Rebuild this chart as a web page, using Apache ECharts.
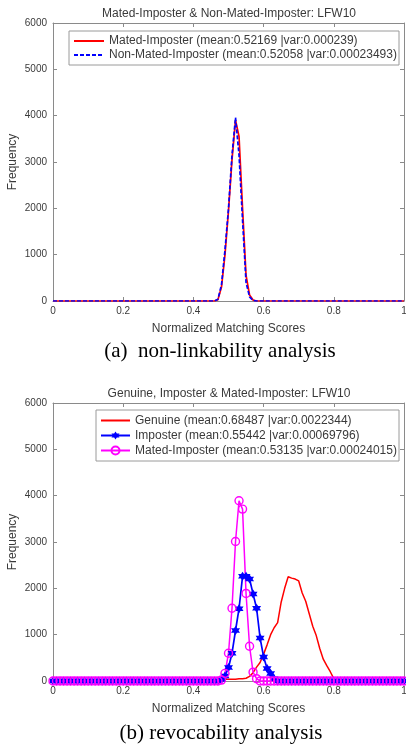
<!DOCTYPE html>
<html>
<head>
<meta charset="utf-8">
<script src="https://cdn.jsdelivr.net/npm/echarts@6/dist/echarts.min.js"></script>
<style>
html,body{margin:0;padding:0;background:#fff;}
#c{width:406px;height:745px;}
</style>
</head>
<body>
<div id="c"></div>
<script>
// Bin positions (normalized matching score)
var xs = [0,0.01,0.02,0.03,0.04,0.05,0.06,0.07,0.08,0.09,
0.10,0.11,0.12,0.13,0.14,0.15,0.16,0.17,0.18,0.19,
0.20,0.21,0.22,0.23,0.24,0.25,0.26,0.27,0.28,0.29,
0.30,0.31,0.32,0.33,0.34,0.35,0.36,0.37,0.38,0.39,
0.40,0.41,0.42,0.43,0.44,0.45,0.46,0.47,0.48,0.49,
0.50,0.51,0.52,0.53,0.54,0.55,0.56,0.57,0.58,0.59,
0.60,0.61,0.62,0.63,0.64,0.65,0.66,0.67,0.68,0.69,
0.70,0.71,0.72,0.73,0.74,0.75,0.76,0.77,0.78,0.79,
0.80,0.81,0.82,0.83,0.84,0.85,0.86,0.87,0.88,0.89,
0.90,0.91,0.92,0.93,0.94,0.95,0.96,0.97,0.98,0.99,1.00];

// (a) non-linkability
var matedA = [0,0,0,0,0,0,0,0,0,0,
0,0,0,0,0,0,0,0,0,0,
0,0,0,0,0,0,0,0,0,0,
0,0,0,0,0,0,0,0,0,0,
0,0,0,0,0,0,0,30,300,1000,
1950,3050,3900,3550,2000,550,130,20,0,0,
0,0,0,0,0,0,0,0,0,0,
0,0,0,0,0,0,0,0,0,0,
0,0,0,0,0,0,0,0,0,0,
0,0,0,0,0,0,0,0,0,0,0];
var nonMatedA = [0,0,0,0,0,0,0,0,0,0,
0,0,0,0,0,0,0,0,0,0,
0,0,0,0,0,0,0,0,0,0,
0,0,0,0,0,0,0,0,0,0,
0,0,0,0,0,0,0,40,350,1100,
2000,3150,3960,3150,1750,400,90,10,0,0,
0,0,0,0,0,0,0,0,0,0,
0,0,0,0,0,0,0,0,0,0,
0,0,0,0,0,0,0,0,0,0,
0,0,0,0,0,0,0,0,0,0,0];

// (b) revocability
var genuineB = [0,0,0,0,0,0,0,0,0,0,
0,0,0,0,0,0,0,0,0,0,
0,0,0,0,0,0,0,0,0,0,
0,0,0,0,0,0,0,0,0,0,
0,0,0,0,0,0,0,0,30,40,
40,40,40,50,50,60,100,180,300,400,
580,780,1000,1150,1260,1700,2000,2250,2220,2200,
2160,1900,1720,1450,1180,980,700,470,330,200,
50,0,0,0,0,0,0,0,0,0,
0,0,0,0,0,0,0,0,0,0,0];
var imposterB = [0,0,0,0,0,0,0,0,0,0,
0,0,0,0,0,0,0,0,0,0,
0,0,0,0,0,0,0,0,0,0,
0,0,0,0,0,0,0,0,0,0,
0,0,0,0,0,0,0,0,30,110,
290,600,1090,1560,2260,2260,2200,1880,1570,930,
520,270,160,50,0,0,0,0,0,0,
0,0,0,0,0,0,0,0,0,0,
0,0,0,0,0,0,0,0,0,0,
0,0,0,0,0,0,0,0,0,0,0];
var matedB = [0,0,0,0,0,0,0,0,0,0,
0,0,0,0,0,0,0,0,0,0,
0,0,0,0,0,0,0,0,0,0,
0,0,0,0,0,0,0,0,0,0,
0,0,0,0,0,0,0,0,20,165,
600,1570,3010,3890,3710,1890,750,190,50,0,
0,0,0,0,0,0,0,0,0,0,
0,0,0,0,0,0,0,0,0,0,
0,0,0,0,0,0,0,0,0,0,
0,0,0,0,0,0,0,0,0,0,0];

var namesA = ['Mated-Imposter (mean:0.52169 |var:0.000239)',
              'Non-Mated-Imposter (mean:0.52058 |var:0.00023493)'];
var namesB = ['Genuine (mean:0.68487 |var:0.0022344)',
              'Imposter (mean:0.55442 |var:0.00069796)',
              'Mated-Imposter (mean:0.53135 |var:0.00024015)'];
var titleA = 'Mated-Imposter & Non-Mated-Imposter: LFW10';
var titleB = 'Genuine, Imposter & Mated-Imposter: LFW10';
var captionA = '(a)  non-linkability analysis';
var captionB = '(b) revocability analysis';
var xName = 'Normalized Matching Scores';
var yName = 'Frequency';

function pairs(v){ return xs.map(function(x,i){ return [x, v[i]]; }); }

var SANS = 'Liberation Sans, Arial, sans-serif';
var SERIF = 'Liberation Serif, Times New Roman, serif';
var AX = '#8a8a8a';
var TXT = '#3a3a3a';
var hexagram = 'path://M0,-10 L2.887,-5 L8.66,-5 L5.774,0 L8.66,5 L2.887,5 L0,10 L-2.887,5 L-8.66,5 L-5.774,0 L-8.66,-5 L-2.887,-5 Z';

function fmt(v){ return String(v); }

function mkX(g, pos){
  var main = pos === 'bottom';
  return {
    gridIndex: g, type: 'value', position: pos, min: 0, max: 1, interval: 0.2,
    axisLine: {show: true, onZero: false, lineStyle: {color: AX, width: 1}},
    axisTick: {show: true, inside: true, length: 4, lineStyle: {color: AX}},
    splitLine: {show: false},
    axisLabel: {show: main, color: TXT, fontSize: 10, fontFamily: SANS, margin: 5, formatter: fmt},
    name: main ? xName : '', nameLocation: 'middle', nameGap: 22, nameMoveOverlap: false,
    nameTextStyle: {color: TXT, fontSize: 12, fontFamily: SANS}
  };
}
function mkY(g, pos){
  var main = pos === 'left';
  return {
    gridIndex: g, type: 'value', position: pos, min: 0, max: 6000, interval: 1000,
    axisLine: {show: true, onZero: false, lineStyle: {color: AX, width: 1}},
    axisTick: {show: true, inside: true, length: 4, lineStyle: {color: AX}},
    splitLine: {show: false},
    axisLabel: {show: main, color: TXT, fontSize: 10, fontFamily: SANS, margin: 6, formatter: fmt},
    name: main ? yName : '', nameLocation: 'middle', nameGap: 34, nameMoveOverlap: false,
    nameTextStyle: {color: TXT, fontSize: 12, fontFamily: SANS}
  };
}

function legendData(names, noSymbol){
  return names.map(function(n, i){
    return noSymbol[i] ? {name: n, itemStyle: {opacity: 0}} : {name: n};
  });
}

var chart = echarts.init(document.getElementById('c'), null, {renderer: 'canvas'});
chart.setOption({
  animation: false,
  backgroundColor: '#ffffff',
  grid: [
    {left: 53, right: 2, top: 23, height: 278, containLabel: false, outerBoundsMode: 'none'},
    {left: 53, right: 2, top: 403, height: 278, containLabel: false, outerBoundsMode: 'none'}
  ],
  xAxis: [mkX(0,'bottom'), mkX(0,'top'), mkX(1,'bottom'), mkX(1,'top')],
  yAxis: [mkY(0,'left'), mkY(0,'right'), mkY(1,'left'), mkY(1,'right')],
  legend: [
    {
      data: legendData(namesA, [true, true]), orient: 'vertical', left: 69, top: 31,
      backgroundColor: '#ffffff', borderColor: '#9a9a9a', borderWidth: 1,
      padding: [3, 2, 3, 4], itemGap: 0, itemWidth: 30, itemHeight: 10,
      textStyle: {fontSize: 12, fontFamily: SANS, color: TXT, lineHeight: 14, width: 288}
    },
    {
      data: legendData(namesB, [true, false, false]), orient: 'vertical', left: 96, top: 410,
      backgroundColor: '#ffffff', borderColor: '#9a9a9a', borderWidth: 1,
      padding: [3, 2, 3, 4], itemGap: 0, itemWidth: 29, itemHeight: 10,
      textStyle: {fontSize: 12, fontFamily: SANS, color: TXT, lineHeight: 15, width: 262}
    }
  ],
  graphic: [
    {type: 'text', style: {text: titleA, x: 229, y: 14, textAlign: 'center', textVerticalAlign: 'middle', fill: TXT, font: '12px ' + SANS}},
    {type: 'text', style: {text: titleB, x: 229, y: 394, textAlign: 'center', textVerticalAlign: 'middle', fill: TXT, font: '12px ' + SANS}},
    {type: 'text', style: {text: captionA, x: 220, y: 351, textAlign: 'center', textVerticalAlign: 'middle', fill: '#000', font: '21px ' + SERIF}},
    {type: 'text', style: {text: captionB, x: 221, y: 733, textAlign: 'center', textVerticalAlign: 'middle', fill: '#000', font: '21px ' + SERIF}}
  ],
  series: [
    {name: namesA[0], type: 'line', xAxisIndex: 0, yAxisIndex: 0, data: pairs(matedA),
     symbol: 'none', color: '#ff0000', lineStyle: {color: '#ff0000', width: 1.7}},
    {name: namesA[1], type: 'line', xAxisIndex: 0, yAxisIndex: 0, data: pairs(nonMatedA),
     symbol: 'none', color: '#0000ff', lineStyle: {color: '#0000ff', width: 1.7, type: [4, 2]}},
    {name: namesB[0], type: 'line', xAxisIndex: 2, yAxisIndex: 2, data: pairs(genuineB),
     symbol: 'none', color: '#ff0000', lineStyle: {color: '#ff0000', width: 1.5}},
    {name: namesB[1], type: 'line', xAxisIndex: 2, yAxisIndex: 2, data: pairs(imposterB),
     symbol: hexagram, symbolSize: 9, color: '#0000ff',
     itemStyle: {color: '#0000ff'}, lineStyle: {color: '#0000ff', width: 1.7}},
    {name: namesB[2], type: 'line', xAxisIndex: 2, yAxisIndex: 2, data: pairs(matedB),
     symbol: 'circle', symbolSize: 8, color: '#ff00ff',
     itemStyle: {color: 'rgba(255,255,255,0)', borderColor: '#ff00ff', borderWidth: 1.4},
     lineStyle: {color: '#ff00ff', width: 1.5}}
  ]
});
</script>
</body>
</html>
